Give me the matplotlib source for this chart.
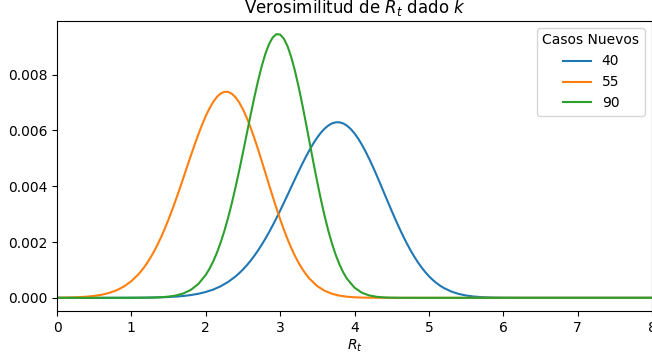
import numpy as np
import matplotlib
matplotlib.use("Agg")
import matplotlib.pyplot as plt

# R_t grid (0 to 8, step 0.1)
r_t = np.round(np.arange(0, 81) * 0.1, 1)

# Likelihood values read from the chart on the 0.1 grid (non-zero stretches; rest are 0)
lead_40 = 8   # starts at R_t = 0.8
vals_40 = [0.000001, 0.000002, 0.000003, 0.000005, 0.000007, 0.000012, 0.000019,
           0.000029, 0.000044, 0.000066, 0.000099, 0.000145, 0.000209, 0.000296,
           0.000413, 0.000567, 0.000765, 0.001014, 0.001319, 0.001685, 0.002112,
           0.002594, 0.003124, 0.003686, 0.004257, 0.004812, 0.005319, 0.005747,
           0.006067, 0.006253, 0.006288, 0.006166, 0.005893, 0.005484, 0.004967,
           0.004376, 0.003746, 0.003115, 0.002514, 0.001967, 0.001491, 0.001095,
           0.000777, 0.000534, 0.000354, 0.000226, 0.000140, 0.000083, 0.000047,
           0.000026, 0.000014, 0.000007, 0.000003, 0.000002, 0.000001]

lead_55 = 0   # starts at R_t = 0.0
vals_55 = [0.000004, 0.000008, 0.000014, 0.000024, 0.000041, 0.000068, 0.000110,
           0.000174, 0.000269, 0.000405, 0.000597, 0.000858, 0.001202, 0.001639,
           0.002177, 0.002812, 0.003530, 0.004306, 0.005097, 0.005853, 0.006513,
           0.007019, 0.007319, 0.007379, 0.007187, 0.006755, 0.006122, 0.005346,
           0.004493, 0.003631, 0.002818, 0.002100, 0.001499, 0.001025, 0.000671,
           0.000419, 0.000250, 0.000142, 0.000077, 0.000040, 0.000019, 0.000009,
           0.000004, 0.000002, 0.000001]

lead_90 = 10  # starts at R_t = 1.0
vals_90 = [0.000001, 0.000002, 0.000005, 0.000010, 0.000021, 0.000043, 0.000084,
           0.000158, 0.000286, 0.000495, 0.000821, 0.001303, 0.001977, 0.002863,
           0.003955, 0.005203, 0.006511, 0.007740, 0.008729, 0.009329, 0.009433,
           0.009013, 0.008126, 0.006902, 0.005515, 0.004139, 0.002913, 0.001920,
           0.001183, 0.000680, 0.000364, 0.000181, 0.000084, 0.000036, 0.000014,
           0.000005, 0.000002, 0.000001]

# Extra readings at half steps (x.x5) around each peak
mid_start_40 = 2.45
mid_40 = [0.000883, 0.001159, 0.001495, 0.001891, 0.002346, 0.002854, 0.003402,
          0.003972, 0.004539, 0.005073, 0.005545, 0.005923, 0.006178, 0.006290,
          0.006247, 0.006048, 0.005704, 0.005237, 0.004679, 0.004064, 0.003429,
          0.002809, 0.002232, 0.001719, 0.001283, 0.000926, 0.000647, 0.000436]
mid_start_55 = 1.15
mid_55 = [0.001019, 0.001408, 0.001896, 0.002483, 0.003162, 0.003913, 0.004703,
          0.005483, 0.006199, 0.006789, 0.007198, 0.007381, 0.007315, 0.006999,
          0.006461, 0.005748, 0.004925, 0.004059, 0.003215, 0.002445, 0.001784,
          0.001247, 0.000834]
mid_start_90 = 2.05
mid_90 = [0.001040, 0.001614, 0.002393, 0.003386, 0.004565, 0.005857, 0.007145,
          0.008275, 0.009086, 0.009447, 0.009288, 0.008622, 0.007546, 0.006218,
          0.004816, 0.003501, 0.002385, 0.001520, 0.000904]

labels = ["40", "55", "90"]


def build(vals, lead, mid_start, mids):
    y = [0.0] * lead + vals + [0.0] * (len(r_t) - lead - len(vals))
    xm = mid_start + 0.1 * np.arange(len(mids))
    x = np.concatenate([r_t, xm])
    yy = np.concatenate([np.array(y), np.array(mids)])
    order = np.argsort(x)
    return x[order], yy[order]


series = [build(vals_40, lead_40, mid_start_40, mid_40),
          build(vals_55, lead_55, mid_start_55, mid_55),
          build(vals_90, lead_90, mid_start_90, mid_90)]

fig = plt.figure(figsize=(6.52, 3.55), dpi=100)
ax = fig.add_axes([57 / 652, 44 / 355, 595 / 652, 290 / 355])

for lab, (x, y) in zip(labels, series):
    ax.plot(x, y, label=lab, linewidth=1.5)

ax.set_xlim(0, 8)
ax.set_title("Verosimilitud de $R_t$ dado $k$", fontsize=12, pad=5.5)
ax.set_xlabel("$R_t$", labelpad=2)
ax.legend(title="Casos Nuevos", loc="upper right")

fig.savefig("out.png", dpi=100)
